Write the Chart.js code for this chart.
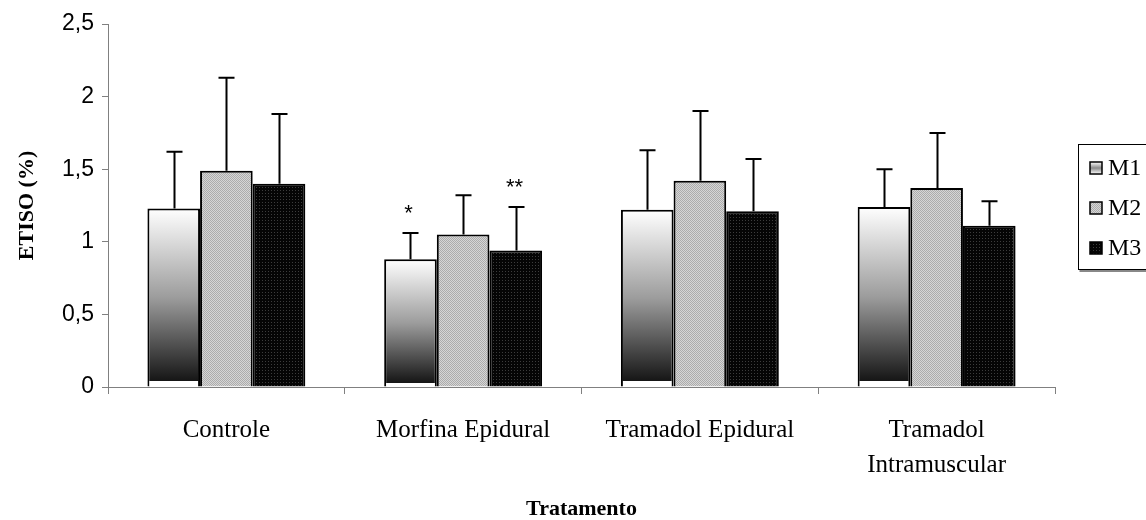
<!DOCTYPE html>
<html>
<head>
<meta charset="utf-8">
<script src="https://cdn.jsdelivr.net/npm/chart.js@4.4.1/dist/chart.umd.min.js"></script>
<style>
html,body{margin:0;padding:0;background:#fff;}
#wrap{width:1146px;height:520px;position:relative;}
</style>
</head>
<body>
<div id="wrap"><canvas id="c"></canvas></div>
<script>
const categories = ['Controle', 'Morfina Epidural', 'Tramadol Epidural', ['Tramadol', 'Intramuscular']];
const seriesNames = ['M1', 'M2', 'M3'];
const m1Values = [1.23, 0.88, 1.22, 1.24];
const m2Values = [1.49, 1.05, 1.42, 1.37];
const m3Values = [1.40, 0.94, 1.21, 1.11];
const m1ErrTop = [1.62, 1.06, 1.63, 1.50];
const m2ErrTop = [2.13, 1.32, 1.90, 1.75];
const m3ErrTop = [1.88, 1.24, 1.57, 1.28];
const m1Marks = ['', '*', '', ''];
const m3Marks = ['', '**', '', ''];
const yTicks = [0, 0.5, 1, 1.5, 2, 2.5];

function makePattern(size, base, dots) {
  const cv = document.createElement('canvas');
  cv.width = size; cv.height = size;
  const x = cv.getContext('2d');
  x.fillStyle = base; x.fillRect(0, 0, size, size);
  dots.forEach(d => { x.fillStyle = d[2]; x.fillRect(d[0], d[1], 1, 1); });
  return x.createPattern(cv, 'repeat');
}
const ctxMain = document.getElementById('c').getContext('2d');
const m2Pattern = makePattern(2, '#d6d6d6', [[0,0,'#acacac'],[1,1,'#acacac']]);
const m3Pattern = makePattern(3, '#050505', [[1,1,'#3c3c3c']]);

function m1Gradient(context) {
  const chart = context.chart;
  if (!chart.chartArea) return '#888';
  const ys = chart.scales.y;
  const v = context.raw;
  const top = ys.getPixelForValue(v);
  const bot = ys.getPixelForValue(0);
  const g = chart.ctx.createLinearGradient(0, top, 0, bot);
  g.addColorStop(0, '#ffffff');
  g.addColorStop(0.5, '#9c9c9c');
  g.addColorStop(0.965, '#161616');
  g.addColorStop(0.966, '#ffffff');
  g.addColorStop(1, '#ffffff');
  return g;
}

const errTops = [m1ErrTop, m2ErrTop, m3ErrTop];
const marks = [m1Marks, null, m3Marks];

const extras = {
  id: 'extras',
  afterDatasetsDraw(chart) {
    const ctx = chart.ctx;
    const ys = chart.scales.y;
    ctx.save();
    ctx.strokeStyle = '#000';
    ctx.lineWidth = 2;
    chart.data.datasets.forEach((ds, di) => {
      const meta = chart.getDatasetMeta(di);
      meta.data.forEach((bar, i) => {
        const x = Math.round(bar.x) + 0.5;
        const y0 = ys.getPixelForValue(ds.data[i]);
        const y1 = ys.getPixelForValue(errTops[di][i]);
        ctx.beginPath();
        ctx.moveTo(x, y0);
        ctx.lineTo(x, y1);
        ctx.moveTo(x - 8, y1);
        ctx.lineTo(x + 8, y1);
        ctx.stroke();
        if (marks[di] && marks[di][i]) {
          ctx.fillStyle = '#000';
          ctx.font = '22px "Liberation Sans", Arial, sans-serif';
          ctx.textAlign = 'center';
          ctx.textBaseline = 'middle';
          ctx.fillText(marks[di][i], x - 2, y1 - 19);
        }
      });
    });
    ctx.restore();
  },
  afterDraw(chart) {
    const ctx = chart.ctx;
    ctx.save();
    const bx = 1078.5, by = 144.5, bw = 80, bh = 125;
    ctx.strokeStyle = '#000';
    ctx.lineWidth = 1;
    ctx.strokeRect(bx, by, bw, bh);
    ctx.fillStyle = '#888';
    ctx.fillRect(bx + 1, by + bh + 0.5, bw, 2);
    const fills = [null, m2Pattern, m3Pattern];
    seriesNames.forEach((name, k) => {
      const cy = 168 + k * 40;
      const sx = 1090, sy = cy - 6, s = 12;
      if (k === 0) {
        const g = ctx.createLinearGradient(0, sy, 0, sy + s);
        g.addColorStop(0, '#ffffff');
        g.addColorStop(0.5, '#8a8a8a');
        g.addColorStop(1, '#ffffff');
        ctx.fillStyle = g;
      } else {
        ctx.fillStyle = fills[k];
      }
      ctx.fillRect(sx, sy, s, s);
      ctx.lineWidth = 1.5;
      ctx.strokeStyle = '#000';
      ctx.strokeRect(sx, sy, s, s);
      ctx.fillStyle = '#000';
      ctx.font = '24px "Liberation Serif", "Times New Roman", serif';
      ctx.textAlign = 'left';
      ctx.textBaseline = 'middle';
      ctx.fillText(name, 1108, cy + 1);
    });
    ctx.restore();
  }
};

new Chart(ctxMain, {
  type: 'bar',
  data: {
    labels: categories,
    datasets: [
      { label: seriesNames[0], data: m1Values, backgroundColor: m1Gradient, borderColor: '#000', borderWidth: 2 },
      { label: seriesNames[1], data: m2Values, backgroundColor: m2Pattern, borderColor: '#000', borderWidth: 2 },
      { label: seriesNames[2], data: m3Values, backgroundColor: m3Pattern, borderColor: '#000', borderWidth: 2 }
    ]
  },
  options: {
    responsive: true,
    maintainAspectRatio: false,
    animation: false,
    events: [],
    categoryPercentage: 0.667,
    barPercentage: 1.0,
    layout: { padding: { top: 24, right: 91, bottom: 0, left: 0 } },
    plugins: { legend: { display: false }, tooltip: { enabled: false } },
    scales: {
      x: {
        grid: { offset: true, drawOnChartArea: false, drawTicks: true, tickLength: 7, color: '#808080', lineWidth: 1 },
        border: { color: '#808080', width: 1 },
        ticks: { color: '#000', padding: 19, font: { family: '"Liberation Serif", "Times New Roman", serif', size: 25, lineHeight: 1.4 }, maxRotation: 0, autoSkip: false },
        title: { display: true, text: 'Tratamento', color: '#000', padding: { top: 0, bottom: -3 }, font: { family: '"Liberation Serif", "Times New Roman", serif', size: 22, weight: 'bold' } },
        afterFit(scale) { scale.height = 133; }
      },
      y: {
        min: 0, max: 2.5,
        afterBuildTicks(scale) { scale.ticks = yTicks.map(v => ({ value: v })); },
        grid: { drawOnChartArea: false, drawTicks: true, tickLength: 6, color: '#808080', lineWidth: 1 },
        border: { color: '#808080', width: 1 },
        ticks: { color: '#000', padding: 8, font: { family: '"Liberation Sans", Arial, sans-serif', size: 23 }, callback: v => String(v).replace('.', ',') },
        title: { display: true, text: 'ETISO (%)', color: '#000', padding: { top: 14, bottom: 0 }, font: { family: '"Liberation Serif", "Times New Roman", serif', size: 22, weight: 'bold' } },
        afterFit(scale) { scale.width = 108; }
      }
    }
  },
  plugins: [extras]
});
</script>
</body>
</html>
